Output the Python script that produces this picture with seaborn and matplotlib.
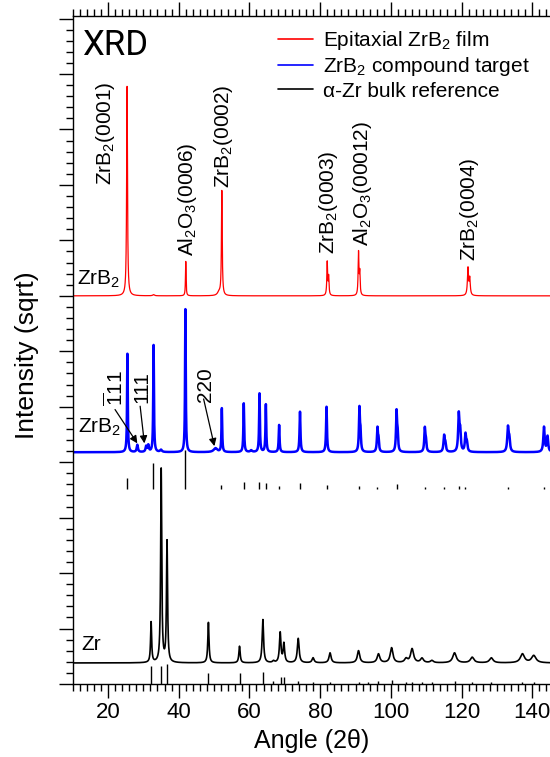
import numpy as np
import pandas as pd
import matplotlib
matplotlib.use("Agg")
import matplotlib.pyplot as plt
from matplotlib.ticker import MultipleLocator
import seaborn as sns

# ---------------- data ----------------
# Epitaxial ZrB2 film (red), vertical offset 7.0
red_offset = 7.0
red_pos = [25.4, 32.9, 42.0, 51.4, 52.2, 82.0, 82.4, 90.85, 91.2, 121.8, 122.3]
red_height = [3.79, 0.02, 0.62, 0.06, 1.89, 0.60, 0.33, 0.77, 0.40, 0.49, 0.30]
red_width = [0.14, 0.3, 0.10, 0.5, 0.13, 0.13, 0.13, 0.13, 0.13, 0.18, 0.18]

# ZrB2 compound target (blue), vertical offset 4.18
blue_offset = 4.18
blue_pos = [25.5, 28.3, 30.8, 31.4, 32.9, 35.0, 41.9, 50.4, 52.2, 58.4, 60.5,
            62.85, 64.65, 68.4, 74.3, 81.8, 91.1, 91.4, 96.2, 96.5, 101.6, 101.9,
            109.6, 109.9, 115.05, 115.4, 119.2, 119.6, 121.1, 121.5, 133.1, 133.5,
            143.3, 144.3]
blue_height = [1.78, 0.13, 0.10, 0.12, 1.93, 0.04, 2.58, 0.07, 0.79, 0.88, 0.03,
               1.06, 0.86, 0.49, 0.73, 0.82, 0.76, 0.33, 0.41, 0.20, 0.70, 0.30,
               0.41, 0.18, 0.28, 0.14, 0.66, 0.35, 0.31, 0.15, 0.43, 0.22,
               0.45, 0.28]
blue_width = [0.12, 0.2, 0.2, 0.2, 0.12, 0.3, 0.12, 0.6, 0.12, 0.13, 0.3,
              0.13, 0.13, 0.14, 0.15, 0.15, 0.16, 0.16, 0.17, 0.17, 0.17, 0.17,
              0.18, 0.18, 0.2, 0.2, 0.2, 0.2, 0.2, 0.2, 0.22, 0.22,
              0.22, 0.22]

# ZrB2 reference sticks (black, below blue)
zrb2_stick_base = 3.52
zrb2_stick_pos = [25.5, 32.8, 41.9, 52.1, 58.4, 62.85, 64.65, 68.4, 74.3, 81.8,
                  91.1, 96.2, 101.6, 109.6, 115.1, 119.2, 121.1, 133.1, 143.3]
zrb2_stick_height = [0.20, 0.46, 0.70, 0.07, 0.13, 0.13, 0.10, 0.05, 0.10, 0.07,
                     0.05, 0.04, 0.08, 0.03, 0.03, 0.05, 0.03, 0.04, 0.04]

# alpha-Zr bulk reference (black), vertical offset 0.38
black_offset = 0.38
black_pos = [32.2, 35.05, 36.7, 48.4, 57.2, 63.8, 66.8, 68.7, 69.75, 73.8, 78.0,
             82.8, 90.85, 96.5, 100.2, 104.3, 106.0, 108.8, 111.6, 118.0, 123.0,
             128.4, 137.2, 140.4]
black_height = [0.73, 3.49, 2.18, 0.73, 0.30, 0.78, 0.03, 0.54, 0.34, 0.44, 0.09,
                0.18, 0.22, 0.16, 0.27, 0.07, 0.25, 0.08, 0.04, 0.18, 0.10,
                0.09, 0.16, 0.13]
black_width = [0.18, 0.18, 0.18, 0.2, 0.22, 0.24, 0.3, 0.25, 0.25, 0.3, 0.35,
               0.35, 0.4, 0.45, 0.45, 0.5, 0.5, 0.5, 0.5, 0.6, 0.6,
               0.6, 0.7, 0.75]

# alpha-Zr reference sticks (bottom)
zr_stick_pos = [32.1, 35.05, 36.7, 48.3, 57.2, 63.8, 66.8, 69.0, 69.8, 73.8, 78.0,
                82.8, 90.85, 93.5, 96.5, 100.2, 104.3, 106.0, 108.8, 111.6, 118.0,
                123.0, 128.4, 137.2, 140.4]
zr_stick_height = [0.33, 0.33, 0.36, 0.20, 0.20, 0.21, 0.05, 0.13, 0.13, 0.06, 0.04,
                   0.04, 0.04, 0.03, 0.05, 0.07, 0.03, 0.04, 0.03, 0.03, 0.06,
                   0.04, 0.03, 0.03, 0.04]

# peak labels of the film
film_labels = [r"ZrB$_2$(0001)", r"Al$_2$O$_3$(0006)", r"ZrB$_2$(0002)",
               r"ZrB$_2$(0003)", r"Al$_2$O$_3$(00012)", r"ZrB$_2$(0004)"]
film_label_x = [19.2, 42.4, 52.6, 82.4, 92.1, 122.1]
film_label_y = [9.0, 7.71, 8.95, 7.75, 7.89, 7.62]

legend_labels = [r"Epitaxial ZrB$_2$ film", r"ZrB$_2$ compound target",
                 "α-Zr bulk reference"]

# ---------------- styling ----------------
sns.set_style("ticks", {"axes.edgecolor": "black", "xtick.color": "black",
                        "ytick.color": "black", "text.color": "black",
                        "axes.labelcolor": "black"})
plt.rcParams["font.family"] = ["Liberation Sans", "DejaVu Sans"]
plt.rcParams["mathtext.fontset"] = "custom"
plt.rcParams["mathtext.rm"] = "Liberation Sans"
plt.rcParams["mathtext.it"] = "Liberation Sans:italic"
plt.rcParams["mathtext.bf"] = "Liberation Sans:bold"


def profile(x, pos, height, width, base):
    y = np.full_like(x, base)
    for c, a, w in zip(pos, height, width):
        y = y + a / (1.0 + ((x - c) / w) ** 2)
    return y


x = np.linspace(10, 145, 8000)
df = pd.DataFrame({
    "angle": x,
    "red": profile(x, red_pos, red_height, red_width, red_offset),
    "blue": profile(x, blue_pos, blue_height, blue_width, blue_offset),
    "black": profile(x, black_pos, black_height, black_width, black_offset),
})

fig = plt.figure(figsize=(5.5, 7.57), dpi=100)
ax = fig.add_axes([0.132, 0.0964, 0.868, 0.882])

sns.lineplot(data=df, x="angle", y="red", color="#ff0000", lw=0.9, ax=ax,
             label=legend_labels[0], estimator=None, sort=False)
sns.lineplot(data=df, x="angle", y="blue", color="#0000ff", lw=1.8, ax=ax,
             label=legend_labels[1], estimator=None, sort=False)
sns.lineplot(data=df, x="angle", y="black", color="black", lw=1.2, ax=ax,
             label=legend_labels[2], estimator=None, sort=False)

ax.vlines(zrb2_stick_pos, zrb2_stick_base,
          np.array(zrb2_stick_height) + zrb2_stick_base, color="black", lw=1.0)
ax.vlines(zr_stick_pos, 0.0, zr_stick_height, color="black", lw=1.0)

for lab, lx, ly in zip(film_labels, film_label_x, film_label_y):
    ax.text(lx, ly, lab, rotation=90, ha="center", va="bottom", fontsize=15)

# series names
ax.text(11.2, 7.3, r"ZrB$_2$", fontsize=15, va="center", ha="left")
ax.text(11.5, 4.63, r"ZrB$_2$", fontsize=15, va="center", ha="left")
ax.text(12.5, 0.72, "Zr", fontsize=15, va="center", ha="left")
ax.text(12.6, 11.35, "XRD", fontsize=25, family="Roboto", va="baseline", ha="left")

# ZrO2 annotations in the target
arrow = dict(arrowstyle="-|>", color="black", lw=0.9, mutation_scale=11,
             shrinkA=0, shrinkB=0)
ax.text(22.0, 5.01, r"$\overline{\mathrm{1}}$11", rotation=90, ha="center",
        va="bottom", fontsize=15)
ax.annotate("", xy=(28.3, 4.34), xytext=(22.0, 4.95), arrowprops=arrow)
ax.text(29.6, 5.06, "111", rotation=90, ha="center", va="bottom", fontsize=15)
ax.annotate("", xy=(30.3, 4.34), xytext=(29.1, 5.01), arrowprops=arrow)
ax.text(47.5, 5.08, "220", rotation=90, ha="center", va="bottom", fontsize=15)
ax.annotate("", xy=(50.1, 4.29), xytext=(47.05, 5.14), arrowprops=arrow)

# axes
ax.set_xlim(10, 145)
ax.set_ylim(0, 12.04)
ax.xaxis.set_major_locator(MultipleLocator(20))
ax.xaxis.set_minor_locator(MultipleLocator(2))
ax.yaxis.set_major_locator(MultipleLocator(1))
ax.yaxis.set_minor_locator(MultipleLocator(0.2))
ax.tick_params(axis="both", which="major", direction="out", length=10, width=1.0)
ax.tick_params(axis="both", which="minor", direction="out", length=5, width=1.0)
ax.tick_params(axis="x", top=True, labeltop=False, labelsize=16, pad=3)
ax.tick_params(axis="x", which="minor", top=True)
ax.tick_params(axis="y", labelleft=False, right=False)
ax.spines["right"].set_visible(False)
for s in ["left", "bottom", "top"]:
    ax.spines[s].set_linewidth(1.0)

ax.set_xlabel("Angle (2θ)", fontsize=18, labelpad=4)
ax.set_ylabel("")
fig.text(27 / 550, 0.531, "Intensity (sqrt)", rotation=90, ha="center",
         va="center", fontsize=19)

leg = ax.legend(loc="upper left", bbox_to_anchor=(0.43, 0.981), frameon=False,
                fontsize=15, handlelength=1.7, handletextpad=0.45,
                labelspacing=0.16, borderpad=0, borderaxespad=0)
for h in leg.get_lines():
    h.set_linewidth(1.2)

fig.savefig("out.png", dpi=100)
